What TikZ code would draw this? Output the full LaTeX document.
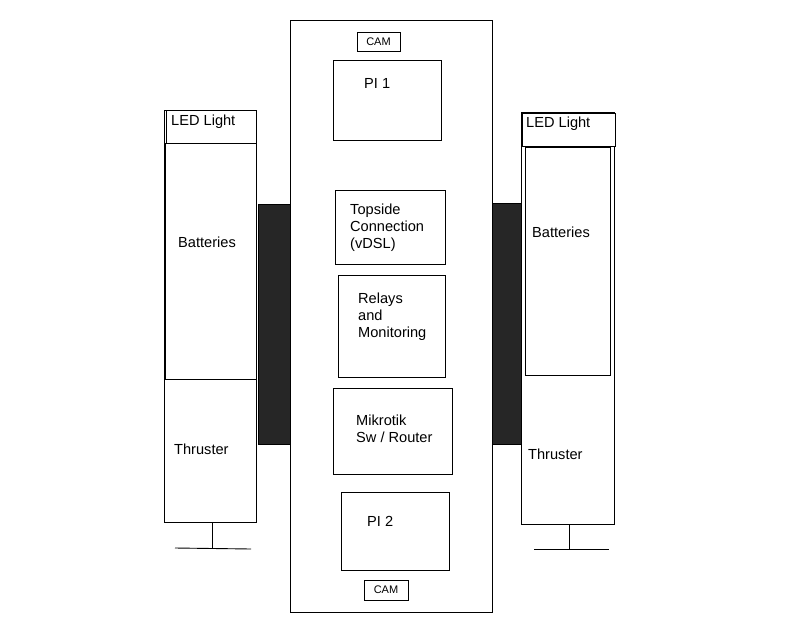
\documentclass[tikz,border=0pt]{standalone}
\usepackage{fontspec}
\setmainfont{Liberation Sans}
\begin{document}
\begin{tikzpicture}[x=1pt,y=-1pt,
  box/.style={draw=black, line width=0.9pt, fill=white, anchor=north west, inner sep=0pt, outer sep=0pt},
  bar/.style={draw=black, fill=black!85, line width=0.8pt, anchor=north west, inner sep=0pt, outer sep=0pt},
  lbl/.style={anchor=west, inner sep=0pt, font=\fontsize{14.6}{17}\selectfont, align=left},
  small/.style={inner sep=0pt, font=\fontsize{11}{13}\selectfont}]
\useasboundingbox (0,0) rectangle (800,640);
% main body
\node[box, minimum width=202pt, minimum height=592pt] (main) at (290,20) {};
% dark bars
\node[bar, minimum width=32pt, minimum height=240pt] (barL) at (258,204) {};
\node[bar, minimum width=30pt, minimum height=241pt] (barR) at (492,203) {};
% left column
\node[box, minimum width=92pt, minimum height=412pt] (colL) at (164,110) {};
\node[box, minimum width=91pt, minimum height=236pt] (batL) at (165,143) {};
\node[box, minimum width=90pt, minimum height=33pt] (ledL) at (166,110) {};
\node[lbl] (ledLt) at (171,122) {LED Light};
\node[lbl] (batLt) at (178,242) {Batteries};
\node[lbl] (thrLt) at (174,449) {Thruster};
\coordinate (footLt) at (212,548);
\draw[line width=0.9pt] (212,522) -- (footLt);
\coordinate (footLa) at (175,548);
\coordinate (footLb) at (251,549);
\draw[line width=0.9pt] (footLa) -- (footLb);
% right column
\node[box, minimum width=93pt, minimum height=412pt] (colR) at (521,112) {};
\node[box, minimum width=85pt, minimum height=228pt] (batR) at (525,147) {};
\node[box, minimum width=93pt, minimum height=33pt] (ledR) at (522,113) {};
\node[lbl] (ledRt) at (526,124) {LED Light};
\node[lbl] (batRt) at (532,232) {Batteries};
\node[lbl] (thrRt) at (528,454) {Thruster};
\coordinate (footRt) at (569,549);
\draw[line width=0.9pt] (569,524) -- (footRt);
\coordinate (footRa) at (534,549);
\coordinate (footRb) at (609,549);
\draw[line width=0.9pt] (footRa) -- (footRb);
% inside main
\node[box, minimum width=43pt, minimum height=19pt] (camT) at (357,32) {};
\node[small] (camTt) at (camT.center) {CAM};
\node[box, minimum width=108pt, minimum height=80pt] (pi1) at (333,60) {};
\node[lbl] (pi1t) at (364,83) {PI 1};
\node[box, minimum width=110pt, minimum height=74pt] (top) at (335,190) {};
\node[lbl, anchor=north west] (topt) at (350,204) {Topside\\Connection\\(vDSL)};
\node[box, minimum width=107pt, minimum height=102pt] (rel) at (338,275) {};
\node[lbl, anchor=north west] (relt) at (358,293) {Relays\\and\\Monitoring};
\node[box, minimum width=119pt, minimum height=86pt] (mik) at (333,388) {};
\node[lbl, anchor=north west] (mikt) at (356,415) {Mikrotik\\Sw / Router};
\node[box, minimum width=108pt, minimum height=78pt] (pi2) at (341,492) {};
\node[lbl] (pi2t) at (367,521) {PI 2};
\node[box, minimum width=44pt, minimum height=20pt] (camB) at (364,580) {};
\node[small] (camBt) at (camB.center) {CAM};
\end{tikzpicture}
\end{document}
